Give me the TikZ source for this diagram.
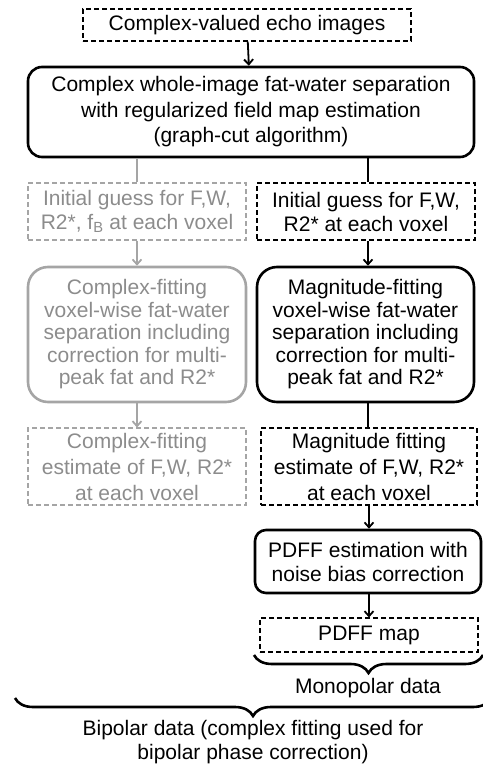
\documentclass[tikz,border=0pt]{standalone}
\usepackage{fontspec}
\setmainfont{Liberation Sans}
\usetikzlibrary{arrows.meta,decorations.pathreplacing}
\definecolor{greytext}{RGB}{140,140,140}
\definecolor{greyline}{RGB}{165,165,165}

\tikzset{
  dashbox/.style={draw,line width=1.1pt,dash pattern=on 5pt off 3pt,
    align=center,inner sep=0pt},
  roundbox/.style={draw,line width=2.6pt,rounded corners=14pt,
    align=center,inner sep=0pt},
  greyed/.style={draw=greyline,text=greytext},
  link/.style={line width=1.8pt},
  bracket/.style={line width=2.6pt,decorate,
    decoration={brace,mirror,amplitude=18pt}}
}

\begin{document}
\begin{tikzpicture}[x=1pt,y=-1pt,>={Straight Barb[length=5pt,width=9pt]},
    font=\fontsize{21}{24}\selectfont]
  \useasboundingbox (0,0) rectangle (482,768);
  % input and graph-cut step
  \node[dashbox,minimum width=328pt,minimum height=32pt] (echo) at (247,25)
    {Complex-valued echo images};
  \node[roundbox,minimum width=446pt,minimum height=90pt,
    font=\fontsize{21}{25.5}\selectfont] (gc) at (251,112)
    {Complex whole-image fat-water separation\\with regularized field map estimation\\(graph-cut algorithm)};
  % left branch: complex fitting (grey)
  \node[dashbox,greyed,minimum width=218pt,minimum height=57pt] (guessC) at (137,211.5)
    {Initial guess for F,W,\\R2*, f\textsubscript{B} at each voxel};
  \node[roundbox,greyed,rounded corners=20pt,minimum width=218pt,minimum height=135pt,
    font=\fontsize{21}{22.5}\selectfont] (fitC) at (137,334.5)
    {Complex-fitting\\voxel-wise fat-water\\separation including\\correction for multi-\\peak fat and R2*};
  \node[dashbox,greyed,minimum width=218pt,minimum height=77pt,
    font=\fontsize{21}{26}\selectfont] (estC) at (137,466.5)
    {Complex-fitting\\estimate of F,W, R2*\\at each voxel};
  % right branch: magnitude fitting
  \node[dashbox,minimum width=218pt,minimum height=57pt] (guessM) at (366,211.5)
    {Initial guess for F,W,\\R2* at each voxel};
  \node[roundbox,rounded corners=20pt,minimum width=217pt,minimum height=135pt,
    font=\fontsize{21}{22.5}\selectfont] (fitM) at (365.5,334.5)
    {Magnitude-fitting\\voxel-wise fat-water\\separation including\\correction for multi-\\peak fat and R2*};
  \node[dashbox,minimum width=216pt,minimum height=77pt,
    font=\fontsize{21}{26}\selectfont] (estM) at (369,466.5)
    {Magnitude fitting\\estimate of F,W, R2*\\at each voxel};
  \node[roundbox,rounded corners=11pt,minimum width=226pt,minimum height=63pt] (pdffest) at (368,561.5)
    {PDFF estimation with\\noise bias correction};
  \node[dashbox,minimum width=218pt,minimum height=34pt] (pdffmap) at (369,635)
    {PDFF map};
  % connectors
  \draw[link,->] (echo) -- (gc);
  \draw[link,greyline] (guessC.north |- gc.south) -- (guessC.north);
  \draw[link] (gc.south -| 368,0) -- (guessM.north -| 368,0);
  \draw[link,greyline,->] (guessC) -- (fitC);
  \draw[link,->] (guessM.south -| 368,0) -- (fitM.north -| 368,0);
  \draw[link,greyline,->] (fitC) -- (estC);
  \draw[link] (fitM.south -| 368,0) -- (estM.north -| 368,0);
  \draw[link,->] (estM.south -| 369,0) -- (pdffest.north -| 369,0);
  \draw[link,->] (pdffest.south -| 369,0) -- (pdffmap.north -| 369,0);
  % braces
  \coordinate (monoL) at (254,655);
  \coordinate (monoR) at (483,655);
  \draw[bracket] (monoL) -- (monoR);
  \node (mono) at (368,688) {Monopolar data};
  \coordinate (bipL) at (15,698);
  \coordinate (bipR) at (491,698);
  \draw[bracket] (bipL) -- (bipR);
  \node[align=center,font=\fontsize{21}{23.5}\selectfont] (bip) at (253,742)
    {Bipolar data (complex fitting used for\\bipolar phase correction)};
\end{tikzpicture}
\end{document}
